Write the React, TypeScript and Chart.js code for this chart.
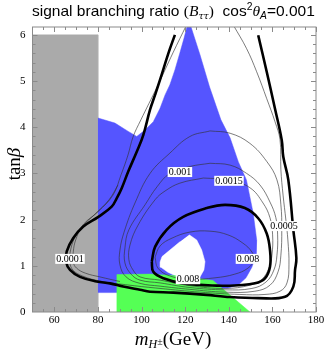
import React, { useEffect, useRef } from "react";
import { Chart, registerables } from "chart.js";
Chart.register(...registerables);

type P = [number, number];

const xMin = 50;
const xMax = 180;
const yMin = 0;
const yMax = 6.17;
const xTickLabels = [60, 80, 100, 120, 140, 160, 180];
const yTickLabels = [0, 1, 2, 3, 4, 5, 6];

const excludedRegion: P[] = [[50, 0], [50, 6], [80, 6], [80, 0]];

const blueRegion: P[] = [
  [80, 4.2], [87.8, 4.09], [93.9, 3.91], [97.8, 3.8], [101.6, 3.94], [105.4, 4.12], [108.5, 4.41],
  [110.8, 4.7], [113.0, 4.92], [115.3, 5.24], [117.6, 5.61], [119.5, 5.93], [120.8, 6.17], [121.8, 6.37],
  [122.7, 6.17], [126.8, 5.57], [131.2, 4.87], [136.4, 4.16], [140.6, 3.77], [144.4, 3.25], [148.1, 2.86],
  [151.2, 2.14], [152.8, 1.56], [152.5, 1.23], [150.6, 0.97], [147.9, 0.74], [144.2, 0.58], [139.6, 0.52],
  [135.0, 0.52], [103.9, 0.42], [80, 0.42],
];

const holeRegion: P[] = [
  [121.9, 1.67], [125.3, 1.56], [127.6, 1.34], [129.1, 1.09], [128.6, 0.91], [126.8, 0.76], [122.2, 0.71],
  [116.7, 0.76], [112.1, 0.86], [108.9, 0.97], [108.5, 1.08], [109.4, 1.2], [113.0, 1.34], [117.6, 1.52],
];

const greenRegion: P[] = [[88.7, 0], [88.7, 0.81], [103.9, 0.82], [117.6, 0.78], [132.8, 0.68], [149.7, 0]];

const thickOuter: P[] = [
  [153.5, 5.99], [157.4, 5.2], [161.2, 4.4], [164.3, 3.72], [165.0, 3.36], [167.3, 2.86], [169.6, 1.78],
  [171.0, 1.17], [170.4, 0.91], [169.6, 0.55], [165.8, 0.33], [153.5, 0.3], [138.3, 0.33], [129.9, 0.37],
  [114.6, 0.42], [103.9, 0.44], [99.3, 0.48], [91.6, 0.55], [85.5, 0.62], [79.4, 0.66], [71.8, 0.76],
  [67.2, 0.91], [65.4, 1.09], [65.7, 1.31], [68.7, 1.6], [73.3, 1.85], [80.2, 2.06], [86.3, 2.28],
  [88.6, 2.46], [90.9, 2.68], [93.9, 3.04], [97.8, 3.47], [100.8, 3.83], [103.9, 4.38], [106.2, 4.7],
  [108.5, 5.03], [112.3, 5.6], [115.3, 6.0],
];

const thickInner: P[] = [
  [104.7, 1.09], [106.2, 1.41], [111.5, 1.78], [119.1, 2.06], [129.9, 2.25], [138.3, 2.32], [147.4, 2.25],
  [153.5, 2.03], [157.4, 1.7], [158.9, 1.34], [158.9, 0.98], [156.6, 0.73], [152.0, 0.62], [144.4, 0.58],
  [134.5, 0.57], [119.1, 0.62], [110.0, 0.73], [105.4, 0.87], [104.7, 1.09],
];

const thinOuter: P[] = [
  [120.7, 6.22], [114.4, 5.61], [107.1, 4.87], [99.7, 4.16], [96.1, 3.79], [93.8, 3.4], [90.6, 2.97],
  [86.9, 2.53], [80.0, 2.17], [73.6, 1.91], [69.3, 1.6], [67.3, 1.3], [67.1, 1.08], [68.5, 0.91],
  [72.9, 0.78], [80.9, 0.67], [94.7, 0.58], [108.5, 0.51], [126.8, 0.43], [145.1, 0.38], [156.6, 0.38],
  [163.5, 0.45], [166.7, 0.63], [167.6, 1.02], [167.1, 1.56], [166.2, 1.99], [164.9, 2.53], [163.9, 3.08],
  [163.5, 3.73], [161.2, 4.12], [157.4, 4.62], [152.8, 5.2], [148.2, 5.7], [142.1, 6.21],
];

const thinNose: P[] = [
  [89.2, 2.75], [85.1, 2.43], [78.7, 2.12], [72.7, 1.84], [69.8, 1.56], [68.7, 1.3], [68.7, 1.08],
  [70.2, 0.95], [74.3, 0.84], [80.9, 0.76], [90.1, 0.66],
];

const contourA: P[] = [
  [131.4, 3.92], [140.6, 3.87], [149.7, 3.65], [157.4, 3.26], [162.1, 2.86], [163.9, 2.32], [164.3, 1.78],
  [163.9, 1.23], [162.6, 0.87], [158.9, 0.58], [152.0, 0.45], [138.3, 0.43], [122.2, 0.49], [108.5, 0.56],
  [99.3, 0.62], [92.9, 0.76], [90.1, 1.02], [90.1, 1.34], [92.0, 1.73], [97.0, 2.36], [103.9, 3.0],
  [113.0, 3.44], [122.2, 3.8], [131.4, 3.92],
];

const contour001: P[] = [
  [131.4, 3.22], [140.6, 3.18], [148.2, 3.0], [154.3, 2.75], [158.9, 2.38], [161.6, 2.04], [162.4, 1.67],
  [162.1, 1.23], [160.7, 0.91], [157.1, 0.65], [150.6, 0.51], [138.3, 0.48], [122.2, 0.53], [108.5, 0.63],
  [99.3, 0.69], [95.2, 0.82], [92.4, 1.06], [92.4, 1.39], [94.2, 1.78], [101.6, 2.32], [107.1, 2.71],
  [113.0, 3.0], [122.2, 3.15], [131.4, 3.22],
];

const contour0015: P[] = [
  [128.3, 2.9], [140.1, 2.86], [149.7, 2.69], [155.7, 2.36], [158.9, 2.04], [160.1, 1.67], [159.8, 1.23],
  [158.4, 0.95], [155.2, 0.71], [149.7, 0.58], [138.3, 0.51], [122.2, 0.57], [108.5, 0.69], [99.3, 0.76],
  [96.1, 0.91], [94.2, 1.13], [94.7, 1.45], [98.4, 1.88], [106.2, 2.43], [110.8, 2.62], [117.6, 2.79],
  [128.3, 2.9],
];

const contour008: P[] = [
  [106.2, 1.19], [108.5, 1.43], [114.0, 1.6], [122.2, 1.73], [131.4, 1.75], [139.6, 1.67], [146.5, 1.49],
  [150.6, 1.3], [151.6, 1.13], [148.8, 0.95], [142.8, 0.82], [133.7, 0.74], [122.2, 0.71], [113.0, 0.78],
  [107.5, 0.95], [106.2, 1.19],
];

const contourLabelText = ["0.0001", "0.001", "0.0015", "0.0005", "0.008", "0.008"];
const contourLabelX = [67.2, 117.6, 140.1, 165.3, 148.8, 121.3];
const contourLabelY = [1.15, 3.03, 2.84, 1.86, 1.15, 0.71];

const SERIF = "'Liberation Serif', 'Times New Roman', serif";
const SANS = "'Liberation Sans', Arial, sans-serif";

const toXY = (pts: P[]) => pts.map(([x, y]) => ({ x, y }));

const region = (pts: P[], color: string, order: number) => ({
  data: toXY(pts),
  showLine: true,
  fill: "shape",
  backgroundColor: color,
  borderColor: color,
  borderWidth: 0.5,
  pointRadius: 0,
  tension: 0,
  order,
  clip: 0,
});

const curve = (pts: P[], thick: boolean, order: number) => ({
  data: toXY(pts),
  showLine: true,
  fill: false,
  borderColor: thick ? "#000" : "rgba(50,50,50,0.85)",
  borderWidth: thick ? 2.6 : 0.75,
  pointRadius: 0,
  tension: 0.4,
  order,
  clip: 0,
});

type Seg = { t: string; font: string; size: number; dy?: number };

function drawRich(ctx: CanvasRenderingContext2D, segs: Seg[], x: number, base: number, scale = 1) {
  let cx = x;
  for (const s of segs) {
    ctx.font = s.font.replace("%", String(s.size * scale));
    ctx.fillText(s.t, cx, base + (s.dy || 0) * scale);
    cx += ctx.measureText(s.t).width;
  }
  return cx - x;
}
function richWidth(ctx: CanvasRenderingContext2D, segs: Seg[], scale = 1) {
  let w = 0;
  for (const s of segs) {
    ctx.font = s.font.replace("%", String(s.size * scale));
    w += ctx.measureText(s.t).width;
  }
  return w;
}

const overlay = {
  id: "overlay",
  afterDatasetsDraw(chart: any) {
    const { ctx, chartArea: a, scales } = chart;
    const xs = scales.x;
    const ys = scales.y;
    ctx.save();
    // contour labels
    ctx.font = `10px ${SERIF}`;
    ctx.textAlign = "center";
    ctx.textBaseline = "middle";
    contourLabelText.forEach((t, i) => {
      const px = xs.getPixelForValue(contourLabelX[i]);
      const py = ys.getPixelForValue(contourLabelY[i]);
      const w = ctx.measureText(t).width + 2;
      ctx.fillStyle = "#fff";
      ctx.fillRect(px - w / 2, py - 5, w, 10);
      ctx.fillStyle = "#000";
      ctx.fillText(t, px, py + 0.5);
    });
    // frame
    ctx.strokeStyle = "#8a8a8a";
    ctx.lineWidth = 1;
    ctx.strokeRect(a.left, a.top, a.right - a.left, a.bottom - a.top);
    ctx.beginPath();
    for (let v = 55; v <= 180.01; v += 5) {
      const major = Math.abs(v % 20) < 0.01;
      const L = major ? 5 : 3;
      const px = Math.round(xs.getPixelForValue(v)) + 0.5;
      ctx.moveTo(px, a.bottom);
      ctx.lineTo(px, a.bottom - L);
      ctx.moveTo(px, a.top);
      ctx.lineTo(px, a.top + L);
    }
    for (let i = 1; i * 0.2 <= 6.17; i++) {
      const v = i * 0.2;
      const major = i % 5 === 0;
      const L = major ? 5 : 3;
      const py = Math.round(ys.getPixelForValue(v)) + 0.5;
      ctx.moveTo(a.left, py);
      ctx.lineTo(a.left + L, py);
      ctx.moveTo(a.right, py);
      ctx.lineTo(a.right - L, py);
    }
    ctx.stroke();

    // title
    ctx.fillStyle = "#000";
    ctx.textAlign = "left";
    ctx.textBaseline = "alphabetic";
    const title: Seg[] = [
      { t: "signal branching ratio ", font: `%px ${SANS}`, size: 15 },
      { t: "(", font: `%px ${SERIF}`, size: 15 },
      { t: "B", font: `italic %px ${SERIF}`, size: 15 },
      { t: "ττ", font: `italic %px 'DejaVu Serif', serif`, size: 9, dy: 3 },
      { t: ")", font: `%px ${SERIF}`, size: 15 },
      { t: "  cos", font: `%px ${SANS}`, size: 15 },
      { t: "2", font: `%px ${SANS}`, size: 10, dy: -6 },
      { t: "θ", font: `italic %px ${SERIF}`, size: 15 },
      { t: "A", font: `italic %px ${SANS}`, size: 10, dy: 3 },
      { t: "=0.001", font: `%px ${SANS}`, size: 15 },
    ];
    const tw = richWidth(ctx, title);
    const sc = Math.max(0.85, Math.min(1.15, 283 / tw));
    drawRich(ctx, title, 32, 16, sc);

    // x title
    const xt: Seg[] = [
      { t: "m", font: `italic %px ${SERIF}`, size: 19 },
      { t: "H", font: `italic %px ${SERIF}`, size: 12, dy: 3 },
      { t: "±", font: `%px ${SERIF}`, size: 10, dy: 0 },
      { t: "(GeV)", font: `%px ${SERIF}`, size: 19 },
    ];
    const xw = richWidth(ctx, xt);
    drawRich(ctx, xt, 173 - xw / 2, 345);

    // y title
    const yt: Seg[] = [
      { t: "tan", font: `%px ${SERIF}`, size: 19 },
      { t: "β", font: `italic %px ${SERIF}`, size: 19 },
    ];
    const yw = richWidth(ctx, yt);
    ctx.translate(20, 164);
    ctx.rotate(-Math.PI / 2);
    drawRich(ctx, yt, -yw / 2, 0);
    ctx.restore();
  },
};

export default function App() {
  const ref = useRef<HTMLCanvasElement>(null);
  useEffect(() => {
    if (!ref.current) return;
    const chart = new Chart(ref.current, {
      type: "scatter",
      data: {
        datasets: [
          region(excludedRegion, "rgb(170,170,170)", 20),
          region(blueRegion, "rgb(85,85,255)", 19),
          region(holeRegion, "#ffffff", 18),
          region(greenRegion, "rgb(85,255,85)", 17),
          curve(thinOuter, false, 10),
          curve(thinNose, false, 10),
          curve(contourA, false, 10),
          curve(contour001, false, 10),
          curve(contour0015, false, 10),
          curve(contour008, false, 10),
          curve(thickOuter, true, 5),
          curve(thickInner, true, 5),
        ] as any,
      },
      options: {
        animation: false,
        responsive: true,
        maintainAspectRatio: false,
        events: [],
        layout: { padding: { left: 0, right: 16, top: 27, bottom: 0 } },
        plugins: { legend: { display: false }, tooltip: { enabled: false }, title: { display: false } },
        scales: {
          x: {
            type: "linear",
            min: xMin,
            max: xMax,
            grid: { display: false, drawTicks: false },
            border: { display: false },
            ticks: { color: "#000", font: { family: SERIF, size: 11 }, padding: 2, autoSkip: false, maxRotation: 0 },
            afterBuildTicks: (s: any) => {
              s.ticks = xTickLabels.map((v) => ({ value: v }));
            },
            afterFit: (s: any) => {
              s.height = 38;
            },
          },
          y: {
            type: "linear",
            min: yMin,
            max: yMax,
            grid: { display: false, drawTicks: false },
            border: { display: false },
            ticks: { color: "#000", font: { family: SERIF, size: 11 }, padding: 7, autoSkip: false },
            afterBuildTicks: (s: any) => {
              s.ticks = yTickLabels.map((v) => ({ value: v }));
            },
            afterFit: (s: any) => {
              s.width = 32.5;
            },
          },
        },
      },
      plugins: [overlay],
    });
    return () => chart.destroy();
  }, []);
  return (
    <div style={{ position: "fixed", left: 0, top: 0, width: 332, height: 350, background: "#fff" }}>
      <canvas ref={ref} />
    </div>
  );
}
